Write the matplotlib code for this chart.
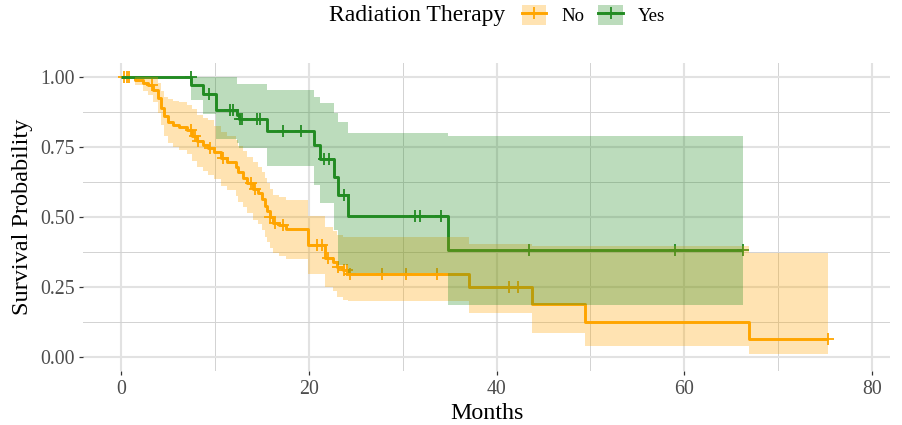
import numpy as np
import matplotlib
matplotlib.use("Agg")
import matplotlib.pyplot as plt
from matplotlib.patches import Patch
from matplotlib.lines import Line2D
from matplotlib.ticker import MultipleLocator, FormatStrFormatter

plt.rcParams['font.family'] = ['Liberation Serif', 'DejaVu Serif']

# ---------------- data ----------------
groups = ["No", "Yes"]
legend_title = "Radiation Therapy"
x_label = "Months"
y_label = "Survival Probability"

no_time = [0, 1.5, 2.3, 2.9, 3.4, 3.9, 4.3, 4.6, 5.0, 5.5, 6.2, 7.0, 7.6, 8.1, 8.7,
           9.3, 9.9, 10.6, 11.3, 12.2, 12.5, 13.0, 13.4, 14.1, 14.6, 15.0, 15.3, 15.6,
           15.9, 16.2, 16.8, 17.6, 19.9, 21.7, 22.6, 23.0, 23.6, 24.2, 37.1, 43.8,
           49.4, 66.9, 75.3]
no_surv = [1.0, 0.99, 0.98, 0.97, 0.955, 0.925, 0.89, 0.86, 0.84, 0.83, 0.82, 0.81,
           0.79, 0.77, 0.757, 0.745, 0.732, 0.71, 0.696, 0.68, 0.66, 0.64, 0.62, 0.60,
           0.585, 0.565, 0.54, 0.52, 0.50, 0.48, 0.47, 0.457, 0.40, 0.355, 0.34, 0.32,
           0.31, 0.295, 0.251, 0.19, 0.125, 0.064, 0.064]
no_upper = [1.0, 1.0, 1.0, 1.0, 1.0, 0.98, 0.95, 0.93, 0.92, 0.915, 0.91, 0.90, 0.885,
            0.865, 0.855, 0.845, 0.825, 0.805, 0.79, 0.775, 0.755, 0.735, 0.715, 0.695,
            0.68, 0.66, 0.64, 0.62, 0.60, 0.58, 0.57, 0.56, 0.505, 0.465, 0.45, 0.435,
            0.43, 0.43, 0.405, 0.398, 0.396, 0.37, 0.37]
no_lower = [1.0, 0.97, 0.95, 0.935, 0.91, 0.87, 0.83, 0.79, 0.765, 0.75, 0.74, 0.725,
            0.70, 0.68, 0.665, 0.65, 0.635, 0.61, 0.595, 0.575, 0.555, 0.535, 0.515,
            0.49, 0.475, 0.455, 0.43, 0.41, 0.39, 0.37, 0.36, 0.35, 0.295, 0.25, 0.235,
            0.215, 0.205, 0.20, 0.157, 0.086, 0.04, 0.01, 0.01]
no_censor = [0.3, 0.6, 0.9, 3.3, 7.4, 7.9, 8.2, 9.5, 10.9, 13.8, 14.3, 15.9, 16.4,
             17.2, 20.9, 21.4, 22.0, 23.1, 23.7, 24.1, 24.4, 27.8, 30.3, 33.6, 41.3,
             42.3, 75.3]

yes_time = [0, 7.5, 8.7, 10.1, 12.3, 12.6, 15.6, 20.6, 21.2, 22.7, 23.1, 24.2, 34.8, 66.2]
yes_surv = [1.0, 0.971, 0.938, 0.882, 0.864, 0.85, 0.808, 0.757, 0.707, 0.642, 0.579,
            0.505, 0.382, 0.382]
yes_upper = [1.0, 1.0, 1.0, 1.0, 0.975, 0.975, 0.954, 0.93, 0.907, 0.87, 0.84, 0.80,
             0.79, 0.79]
yes_lower = [1.0, 0.918, 0.868, 0.78, 0.765, 0.746, 0.682, 0.614, 0.55, 0.454, 0.33,
             0.30, 0.186, 0.186]
yes_censor = [7.4, 9.4, 11.6, 11.9, 12.7, 12.9, 14.5, 14.8, 17.2, 19.2, 21.6, 22.2,
              23.7, 31.3, 31.8, 34.1, 43.4, 59.0, 66.2]

x_ticks = [0, 20, 40, 60, 80]
y_ticks = [0.00, 0.25, 0.50, 0.75, 1.00]

colors = {"No": "#FFA500", "Yes": "#228B22"}

series = {
    "No": (no_time, no_surv, no_lower, no_upper, no_censor),
    "Yes": (yes_time, yes_surv, yes_lower, yes_upper, yes_censor),
}

# ---------------- figure ----------------
fig = plt.figure(figsize=(9.02, 4.25), dpi=100)
ax = fig.add_axes([83 / 902, 1 - 371 / 425, (890 - 83) / 902, (371 - 63) / 425])

# lines first, ribbons after
for g in groups:
    t, s, lo, up, cens = series[g]
    t = np.asarray(t); s = np.asarray(s)
    ax.step(t, s, where='post', color=colors[g], lw=2.1, zorder=3, solid_capstyle='butt')
    idx = np.searchsorted(t, np.asarray(cens), side='right') - 1
    ax.plot(cens, s[idx], ls='none', marker='+', ms=9, mew=1.3, color=colors[g], zorder=3)
for g in groups:
    t, s, lo, up, cens = series[g]
    ax.fill_between(t, lo, up, step='post', color=colors[g], alpha=0.3, lw=0, zorder=4)

ax.set_xlim(-4.05, 81.9)
ax.set_ylim(-0.05, 1.05)
ax.set_xticks(x_ticks)
ax.set_yticks(y_ticks)
ax.xaxis.set_minor_locator(MultipleLocator(10))
ax.yaxis.set_minor_locator(MultipleLocator(0.125))
ax.yaxis.set_major_formatter(FormatStrFormatter('%.2f'))
ax.grid(which='major', color='#e2e2e2', lw=1.5, zorder=0)
ax.grid(which='minor', color='#d2d2d2', lw=0.7, zorder=0)
ax.set_axisbelow(True)
for sp in ax.spines.values():
    sp.set_visible(False)
ax.tick_params(which='major', length=3.2, width=0.9, color='#333333',
               labelsize=14.3, labelcolor='#4d4d4d', pad=3)
ax.tick_params(which='minor', length=0)
ax.set_xlabel(x_label, fontsize=17.3, labelpad=3)
ax.set_ylabel(y_label, fontsize=17.5, labelpad=5)

# legend
handles = [(Patch(facecolor=colors[g], alpha=0.3, lw=0),
            Line2D([], [], color=colors[g], lw=2.1, marker='+', ms=9, mew=1.3))
           for g in groups]
fig.text(505 / 902, 1 - 16 / 425, legend_title, ha='right', va='center', fontsize=17)
fig.legend(handles, groups, loc='center left', bbox_to_anchor=(522 / 902, 1 - 15 / 425),
           ncol=2, frameon=False, fontsize=13.5, handlelength=1.3, handleheight=1.3,
           handletextpad=0.8, columnspacing=0.75, borderpad=0, borderaxespad=0)

fig.savefig("out.png", dpi=100)
